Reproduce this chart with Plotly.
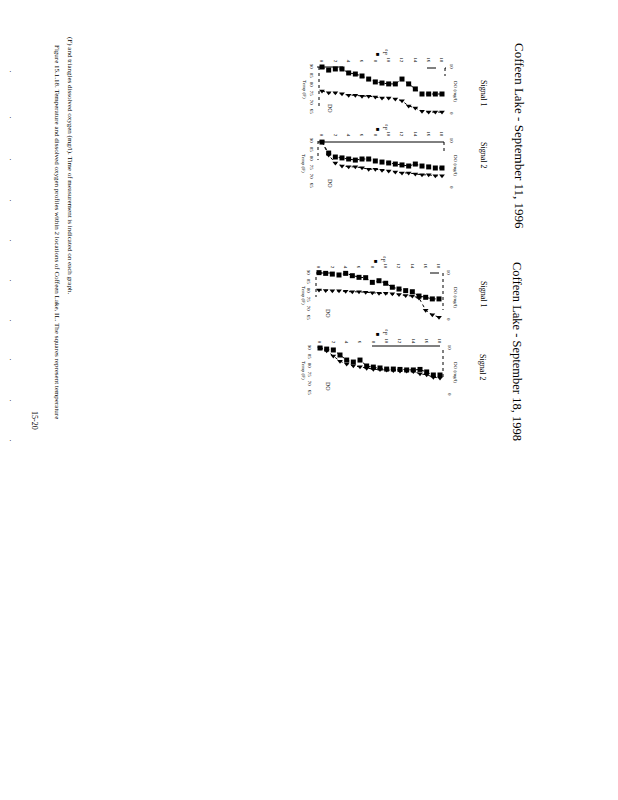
import plotly.graph_objects as go

W, H = 618, 800

# ---------------- data ----------------
depth_ft = list(range(19))
depth_tick_vals = list(range(0, 19, 2))
temp_tick_vals = [65, 70, 75, 80, 85, 90]
do_tick_vals = [0, 10]

sep11_s1_temp = [90.0, 88.3, 88.9, 88.9, 86.7, 86.1, 85.0, 83.3, 81.7, 81.1, 80.6, 80.6, 83.3, 80.6, 77.8, 75.0, 75.0, 75.0, 75.0]
sep11_s1_do = [4.9, 4.5, 4.5, 4.3, 4.0, 4.0, 3.8, 3.8, 3.6, 3.4, 3.4, 3.2, 2.8, 1.7, 1.3, 0.6, 0.4, 0.4, 0.4]
sep11_s2_temp = [89.4, 83.3, 81.1, 80.6, 80.0, 79.4, 80.0, 80.0, 78.9, 78.3, 77.8, 77.2, 76.7, 76.1, 77.2, 76.1, 75.6, 75.0, 75.0]
sep11_s2_do = [9.8, 7.0, 5.3, 4.7, 4.5, 4.5, 4.3, 4.0, 4.0, 3.8, 3.6, 3.4, 3.2, 3.2, 3.0, 2.8, 2.8, 2.6, 2.6]
sep18_s1_temp = [90.2, 89.8, 89.4, 88.9, 89.8, 88.5, 87.6, 87.4, 84.8, 85.7, 84.3, 82.1, 81.1, 80.2, 79.6, 77.2, 76.5, 75.6, 75.6]
sep18_s1_do = [6.4, 6.3, 6.2, 6.2, 6.1, 6.0, 6.0, 5.9, 5.8, 5.7, 5.7, 5.6, 5.4, 5.2, 5.1, 4.7, 2.1, 1.1, 0.6]
sep18_s2_temp = [90.0, 89.4, 88.9, 86.1, 83.3, 82.2, 83.3, 80.0, 79.4, 78.9, 78.3, 78.3, 78.1, 77.8, 77.8, 78.1, 76.7, 75.0, 75.0]
sep18_s2_do = [10.0, 9.4, 8.3, 7.2, 6.6, 6.2, 6.0, 5.7, 5.5, 5.4, 5.3, 5.2, 5.1, 5.1, 5.0, 4.5, 4.3, 3.8, 3.6]

titles = ["Coffeen Lake - September 11, 1996", "Coffeen Lake - September 18, 1998"]
signal_labels = ["Signal 1", "Signal 2", "Signal 1", "Signal 2"]
caption_lines = [
    "Figure 15.1.18. Temperature and dissolved oxygen profiles within 2 locations of Coffeen Lake, IL. The squares represent temperature",
    "(F) and triangles dissolved oxygen (mg/l). Time of measurement is indicated on each graph.",
]
page_number = "15-20"

# ---------------- layout helpers (pixel -> paper) ----------------
def px(x):
    return x / W

def py(y):
    return 1 - y / H

FONT = "Liberation Serif, Times New Roman, serif"
PX_PER_FT = 120 / 18.0
PX_PER_F = 1.8
PX_PER_MG = 4.7

panels = [
    dict(temp=sep11_s1_temp, do=sep11_s1_do, y0=67, x0=322),
    dict(temp=sep11_s2_temp, do=sep11_s2_do, y0=141, x0=322),
    dict(temp=sep18_s1_temp, do=sep18_s1_do, y0=273, x0=319),
    dict(temp=sep18_s2_temp, do=sep18_s2_do, y0=348, x0=320),
]

fig = go.Figure()
layout = dict(
    width=W, height=H, autosize=False,
    margin=dict(l=0, r=0, t=0, b=0),
    paper_bgcolor="white", plot_bgcolor="white",
    showlegend=False,
    font=dict(family=FONT, color="black"),
)

for i, p in enumerate(panels, start=1):
    xn = "x" if i == 1 else f"x{i}"
    yt = f"y{2*i-1}" if i > 1 else "y"
    yd = f"y{2*i}"
    x0, y0 = p["x0"], p["y0"]
    left_px, right_px = x0 - 6, x0 + 126
    top_px, bot_px = y0 - 3, y0 + 52
    xr = [(left_px - x0) / PX_PER_FT, (right_px - x0) / PX_PER_FT]
    tr = [90 - (bot_px - y0) / PX_PER_F, 90 + (y0 - top_px) / PX_PER_F]
    dr = [10 - (bot_px - y0) / PX_PER_MG, 10 + (y0 - top_px) / PX_PER_MG]

    fig.add_trace(go.Scatter(
        x=depth_ft, y=p["temp"], xaxis=xn, yaxis=yt, mode="lines+markers",
        line=dict(color="black", width=1, dash="dot"),
        marker=dict(symbol="square", size=5, color="black"),
        cliponaxis=False, hoverinfo="skip"))
    fig.add_trace(go.Scatter(
        x=depth_ft, y=p["do"], xaxis=xn, yaxis=yd, mode="lines+markers",
        line=dict(color="black", width=1, dash="dot"),
        marker=dict(symbol="triangle-down", size=5, color="black"),
        cliponaxis=False, hoverinfo="skip"))

    xkey = "xaxis" if i == 1 else f"xaxis{i}"
    ytkey = "yaxis" if i == 1 else f"yaxis{2*i-1}"
    ydkey = f"yaxis{2*i}"
    layout[xkey] = dict(
        domain=[px(left_px), px(right_px)], range=xr, side="top",
        anchor=yt, tickvals=depth_tick_vals, tickangle=90,
        tickfont=dict(size=5, family=FONT), showgrid=False, zeroline=False,
        showline=False, ticks="", fixedrange=True)
    layout[ytkey] = dict(
        domain=[py(bot_px), py(top_px)], range=tr, anchor=xn, side="left",
        tickvals=temp_tick_vals, tickangle=90, tickfont=dict(size=5, family=FONT),
        showgrid=False, zeroline=False, showline=False, ticks="", fixedrange=True)
    layout[ydkey] = dict(
        overlaying=yt, range=dr, anchor=xn, side="right",
        tickvals=do_tick_vals, tickangle=90, tickfont=dict(size=5, family=FONT),
        showgrid=False, zeroline=False, showline=False, ticks="", fixedrange=True)

fig.update_layout(**layout)

# ---------------- decoration: partial frame lines ----------------
def seg(x1, y1, x2, y2, dash="solid", width=1):
    fig.add_shape(type="line", xref="paper", yref="paper",
                  x0=px(x1), y0=py(y1), x1=px(x2), y1=py(y2),
                  line=dict(color="black", width=width, dash=dash))

# chart 1
seg(317, 67, 343, 67)
seg(427, 68, 446, 68, dash="dash")
seg(319, 67, 319, 108, dash="dot")
seg(445, 68, 445, 76, dash="dot")
# chart 2
seg(318, 142, 444, 142)
seg(318, 141, 318, 160, dash="dot")
seg(444, 142, 444, 152, dash="dot")
# chart 3
seg(316, 273, 330, 273)
seg(430, 273, 444, 273, dash="dash")
seg(316, 277, 316, 297, dash="dot")
seg(443, 273, 443, 310, dash="dot")
# chart 4
seg(372, 346, 440, 346)
seg(443, 350, 443, 380, dash="dot")

# ---------------- text ----------------
def txt(x, y, s, size, angle=90, family=FONT):
    fig.add_annotation(x=px(x), y=py(y), xref="paper", yref="paper",
                       text=s, showarrow=False, textangle=angle,
                       xanchor="center", yanchor="middle",
                       font=dict(size=size, family=family, color="black"))

txt(520, 136, titles[0], 13)
txt(517, 351, titles[1], 12.5)
for (lx, ly), lab in zip([(483, 93), (483, 155), (483, 294), (483, 367)], signal_labels):
    txt(lx, ly, lab, 8)

# per-chart small legend/axis labels
for p, (mx, my), (dx, dy) in zip(panels,
                                  [(381, 54), (381, 129), (379, 261), (381, 334)],
                                  [(330, 108), (330, 183), (328, 313), (328, 386)]):
    y0 = p["y0"]
    txt(mx - 3, my, "■", 6, angle=0)
    txt(mx + 4, my - 2, "°F", 6)
    txt(dx, dy, "DO", 6)
    txt(304, y0 + 22, "Temp (F)", 5)
    txt(456, y0 + 24, "DO (mg/l)", 5)

txt(57, 232, caption_lines[0], 7)
txt(70, 165, caption_lines[1], 7)
txt(35, 420, page_number, 8)

for yy in [72, 118, 160, 200, 240, 280, 320, 360, 400, 440]:
    txt(10, yy, "·", 8, angle=0)

fig.write_html("out.html", post_script="document.body.style.margin='0';",
               config={"displayModeBar": False})
